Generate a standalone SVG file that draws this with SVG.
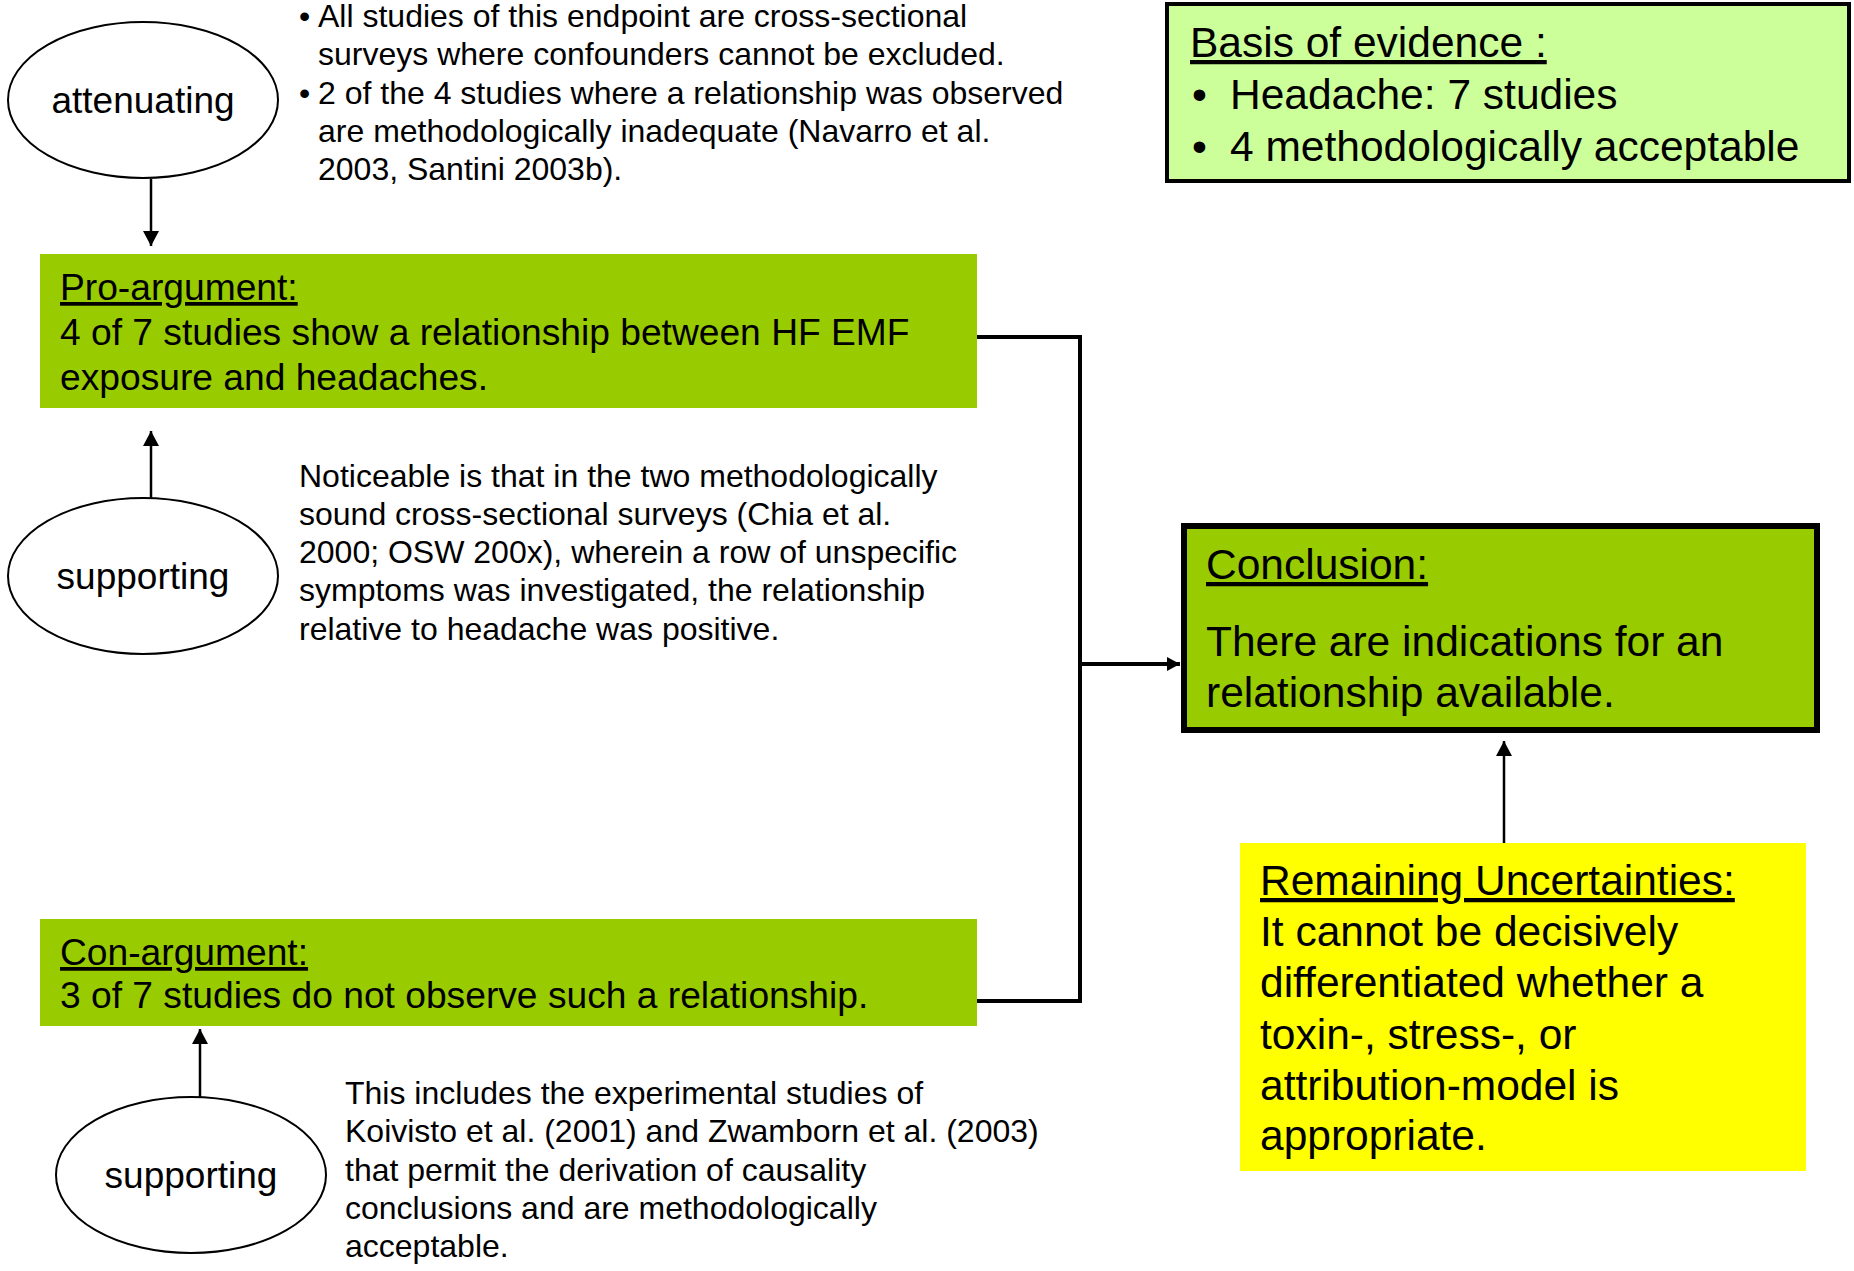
<svg xmlns="http://www.w3.org/2000/svg" width="1854" height="1271" viewBox="0 0 1854 1271">
  <style>
    text { font-family: "Liberation Sans", Arial, sans-serif; fill: #000; }
    .lbl { font-size: 37px; text-anchor: middle; }
    .arg { font-size: 37.2px; }
    .note { font-size: 32px; }
    .big { font-size: 42.5px; }
    .u { text-decoration: underline; }
    .oval { fill: #fff; stroke: #000; stroke-width: 2; }
    .thin { fill: none; stroke: #000; stroke-width: 2.5; }
    .thick { fill: none; stroke: #000; stroke-width: 4; }
  </style>
  <defs>
    <marker id="head" markerUnits="userSpaceOnUse" markerWidth="16" markerHeight="16" refX="15" refY="8" orient="auto">
      <path d="M0,0 L15,8 L0,16 Z" fill="#000"/>
    </marker>
    <marker id="headSmall" markerUnits="userSpaceOnUse" markerWidth="14" markerHeight="14" refX="13" refY="7" orient="auto">
      <path d="M0,0 L13,7 L0,14 Z" fill="#000"/>
    </marker>
  </defs>

  <rect width="1854" height="1271" fill="#fff"/>

  <!-- connectors -->
  <g id="connectors">
    <line class="thin" x1="151" y1="179" x2="151" y2="246" marker-end="url(#head)"/>
    <line class="thin" x1="151" y1="498" x2="151" y2="431" marker-end="url(#head)"/>
    <line class="thin" x1="200" y1="1097" x2="200" y2="1029" marker-end="url(#head)"/>
    <line class="thin" x1="1504" y1="843" x2="1504" y2="741" marker-end="url(#head)"/>
    <polyline class="thick" points="977,337 1080,337 1080,1001 977,1001"/>
    <line class="thick" x1="1080" y1="664" x2="1180" y2="664" marker-end="url(#headSmall)"/>
  </g>

  <!-- attenuating -->
  <g id="attenuating">
    <ellipse class="oval" cx="143" cy="100" rx="135" ry="78"/>
    <text class="lbl" x="143" y="113">attenuating</text>
  </g>

  <g id="attenuating-note">
    <text class="note">
      <tspan x="299" y="27">•</tspan><tspan x="318" y="27">All studies of this endpoint are cross-sectional</tspan>
      <tspan x="318" y="65">surveys where confounders cannot be excluded.</tspan>
      <tspan x="299" y="104">•</tspan><tspan x="318" y="104">2 of the 4 studies where a relationship was observed</tspan>
      <tspan x="318" y="142">are methodologically inadequate (Navarro et al.</tspan>
      <tspan x="318" y="180">2003, Santini 2003b).</tspan>
    </text>
  </g>

  <!-- basis of evidence -->
  <g id="basis">
    <rect x="1167" y="4" width="682" height="177" fill="#ccff99" stroke="#000" stroke-width="4"/>
    <text class="big u" x="1190" y="57">Basis of evidence :</text>
    <text class="big" x="1192" y="109">•</text>
    <text class="big" x="1230" y="109">Headache: 7 studies</text>
    <text class="big" x="1192" y="161">•</text>
    <text class="big" x="1230" y="161">4 methodologically acceptable</text>
  </g>

  <!-- pro-argument -->
  <g id="pro">
    <rect x="40" y="254" width="937" height="154" fill="#99cc00"/>
    <text class="arg u" x="60" y="300">Pro-argument:</text>
    <text class="arg" x="60" y="345">4 of 7 studies show a relationship between HF EMF</text>
    <text class="arg" x="60" y="390">exposure and headaches.</text>
  </g>

  <!-- supporting (pro) -->
  <g id="supporting-pro">
    <ellipse class="oval" cx="143" cy="576" rx="135" ry="78"/>
    <text class="lbl" x="143" y="589">supporting</text>
  </g>

  <g id="supporting-pro-note">
    <text class="note">
      <tspan x="299" y="487">Noticeable is that in the two methodologically</tspan>
      <tspan x="299" y="525">sound cross-sectional surveys (Chia et al.</tspan>
      <tspan x="299" y="563">2000; OSW 200x), wherein a row of unspecific</tspan>
      <tspan x="299" y="601">symptoms was investigated, the relationship</tspan>
      <tspan x="299" y="640">relative to headache was positive.</tspan>
    </text>
  </g>

  <!-- conclusion -->
  <g id="conclusion">
    <rect x="1184" y="526" width="633" height="204" fill="#99cc00" stroke="#000" stroke-width="6"/>
    <text class="big u" x="1206" y="579">Conclusion:</text>
    <text class="big" x="1206" y="656">There are indications for an</text>
    <text class="big" x="1206" y="707">relationship available.</text>
  </g>

  <!-- con-argument -->
  <g id="con">
    <rect x="40" y="919" width="937" height="107" fill="#99cc00"/>
    <text class="arg u" x="60" y="965">Con-argument:</text>
    <text class="arg" x="60" y="1008">3 of 7 studies do not observe such a relationship.</text>
  </g>

  <!-- supporting (con) -->
  <g id="supporting-con">
    <ellipse class="oval" cx="191" cy="1175" rx="135" ry="78"/>
    <text class="lbl" x="191" y="1188">supporting</text>
  </g>

  <g id="supporting-con-note">
    <text class="note">
      <tspan x="345" y="1104">This includes the experimental studies of</tspan>
      <tspan x="345" y="1142">Koivisto et al. (2001) and Zwamborn et al. (2003)</tspan>
      <tspan x="345" y="1181">that permit the derivation of causality</tspan>
      <tspan x="345" y="1219">conclusions and are methodologically</tspan>
      <tspan x="345" y="1257">acceptable.</tspan>
    </text>
  </g>

  <!-- remaining uncertainties -->
  <g id="uncertainties">
    <rect x="1240" y="843" width="566" height="328" fill="#ffff00"/>
    <text class="big u" x="1260" y="895">Remaining Uncertainties:</text>
    <text class="big" x="1260" y="946">It cannot be decisively</text>
    <text class="big" x="1260" y="997">differentiated whether a</text>
    <text class="big" x="1260" y="1049">toxin-, stress-, or</text>
    <text class="big" x="1260" y="1100">attribution-model is</text>
    <text class="big" x="1260" y="1150">appropriate.</text>
  </g>
</svg>
